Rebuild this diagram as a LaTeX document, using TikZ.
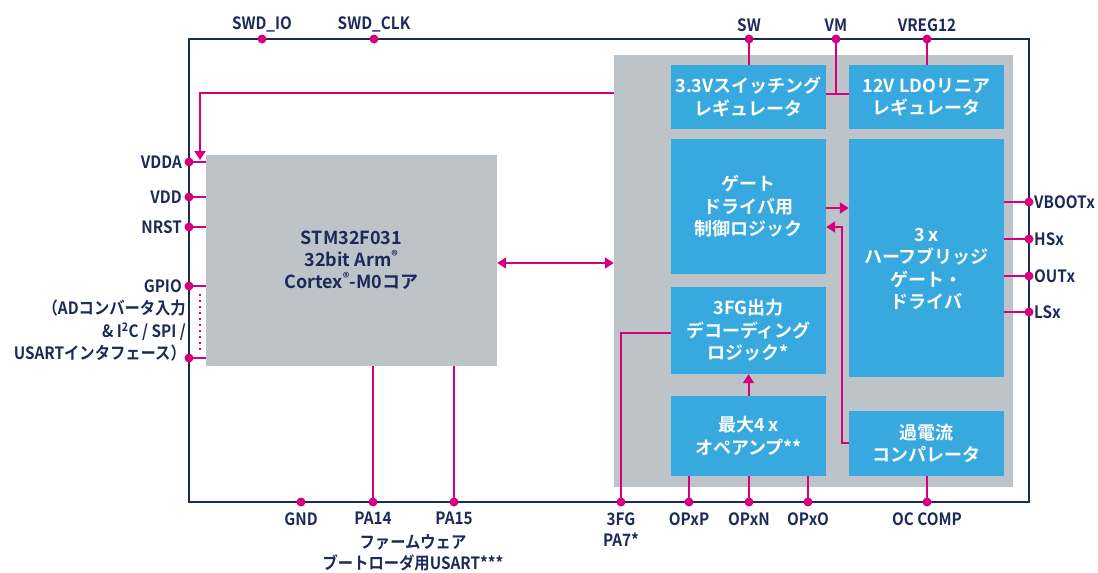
\documentclass[tikz,border=0pt]{standalone}
\usepackage{fontspec}
\usepackage{tikz}
\usetikzlibrary{arrows.meta,positioning}
\newfontfamily\jp{Noto Sans CJK JP}[UprightFont={* Bold}]
\newfontfamily\jpn{Noto Sans CJK JP}[UprightFont={* Bold},FakeStretch=0.9]
\definecolor{stnavy}{HTML}{1B2A57}
\definecolor{stpink}{HTML}{D6007F}
\definecolor{stgray}{HTML}{BCC4CA}
\definecolor{stblue}{HTML}{38A9DF}

\begin{document}
\begin{tikzpicture}[x=1pt,y=-1pt,>={Triangle[length=9pt,width=11pt]},
      font=\jp\fontsize{17}{22}\selectfont,
      frame/.style={draw=stnavy,line width=2pt},
      panel/.style={fill=stgray,inner sep=0pt},
      blk/.style={fill=stblue,text=white,align=center,inner sep=0pt,
        minimum width=155pt,font=\jp\fontsize{18}{22.5}\selectfont},
      wire/.style={draw=stpink,line width=2pt},
      pin/.style={circle,fill=stpink,inner sep=0pt,minimum size=9pt},
      lbl/.style={text=stnavy,inner sep=1pt,font=\jpn\fontsize{17}{21}\selectfont}]
  \useasboundingbox (0,0) rectangle (1098,573);
  \draw[frame] (189,39) rectangle (1029,502);
  % gray blocks
  \node[panel,minimum width=399pt,minimum height=432pt] (drv) at (813.5,271) {};
  \node[panel,minimum width=291pt,minimum height=211pt,text=stnavy,align=center,
        font=\jp\fontsize{18}{22}\selectfont] (mcu) at (351.5,260.5)
        {STM32F031\\32bit Arm\textsuperscript{®}\\Cortex\textsuperscript{®}-M0コア};
  % blue blocks
  \node[blk,minimum height=64pt]  (sw33) at (748.5,97)    {3.3Vスイッチング\\レギュレータ};
  \node[blk,minimum height=64pt]  (ldo)  at (926.5,97)    {12V LDOリニア\\レギュレータ};
  \node[blk,minimum height=135pt] (gctl) at (748.5,206.5) {ゲート\\ドライバ用\\制御ロジック};
  \node[blk,minimum height=238pt] (hb)   at (926.5,258)   {};
  \node[blk,fill=none] (hbtext) at ([yshift=-11pt]hb.center) {3 x\\ハーフブリッジ\\ゲート・\\ドライバ};
  \node[blk,minimum height=87pt]  (fg)   at (748.5,330.5) {3FG出力\\デコーディング\\ロジック*};
  \node[blk,minimum height=80pt]  (opa)  at (748.5,436)   {最大4 x\\オペアンプ**};
  \node[blk,minimum height=65pt]  (occ)  at (926.5,443.5) {過電流\\コンパレータ};
  % pins on the frame
  \foreach \nm/\x in {swdio/262,swdclk/374,sw/749,vm/836,vreg/927}
    \coordinate (\nm) at (\x,39);
  \foreach \nm/\y in {vdda/162,vdd/197,nrst/227,gpio/286,gpiob/358}
    \coordinate (\nm) at (189,\y);
  \foreach \nm/\y in {vboot/202,hs/239,out/276,ls/312}
    \coordinate (\nm) at (1029,\y);
  \foreach \nm/\x in {gnd/301,pa14/373,pa15/454,pfg/621,opp/689,opn/749,opo/808,ocp/927}
    \coordinate (\nm) at (\x,502);
  \coordinate (vmj) at (836,94);
  \coordinate (pwr) at (614,93);
  \coordinate (vin) at (200,160);
  \coordinate (fgo) at (671,333);
  \coordinate (ocj) at (842,443);
  \coordinate (fbk) at (842,227);
  % wires
  \draw[wire] (sw) -- (sw |- sw33.north);
  \draw[wire] (vm) -- (vmj);
  \draw[wire] (sw33.east |- vmj) -- (ldo.west |- vmj);
  \draw[wire] (vreg) -- (vreg |- ldo.north);
  \draw[wire,->] (pwr) -| (vin);
  \foreach \p in {vdda,vdd,nrst,gpio,gpiob}
    \draw[wire] (\p) -- (mcu.west |- \p);
  \draw[stpink,line width=2pt,dash pattern=on 2pt off 4pt] (200,294) -- (200,352);
  \foreach \p in {vboot,hs,out,ls}
    \draw[wire] (hb.east |- \p) -- (\p);
  \draw[wire] (pa14) -- (pa14 |- mcu.south);
  \draw[wire] (pa15) -- (pa15 |- mcu.south);
  \draw[wire] (fgo) -| (pfg);
  \foreach \p in {opp,opn,opo}
    \draw[wire] (\p) -- (\p |- opa.south);
  \draw[wire] (ocp) -- (ocp |- occ.south);
  \draw[wire,->] (gctl.east |- 0,208) -- (hb.west |- 0,208);
  \draw[wire,->] (occ.west |- ocj) -- (ocj) -- (fbk) -- (gctl.east |- fbk);
  \draw[wire,->] (opa.north) -- (fg.south);
  \draw[wire,<->] (mcu.east |- 0,263) -- (drv.west |- 0,263);
  % pin dots
  \foreach \p in {swdio,swdclk,sw,vm,vreg,vdda,vdd,nrst,gpio,gpiob,
                  vboot,hs,out,ls,gnd,pa14,pa15,pfg,opp,opn,opo,ocp}
    \node[pin] at (\p) {};
  % labels
  \node[lbl,above=6pt] at (swdio)  {SWD\_IO};
  \node[lbl,above=6pt] at (swdclk) {SWD\_CLK};
  \node[lbl,above=6pt] at (sw)     {SW};
  \node[lbl,above=6pt] at (vm)     {VM};
  \node[lbl,above=6pt] at (vreg)   {VREG12};
  \node[lbl,left=6pt] at (vdda) {VDDA};
  \node[lbl,left=6pt] at (vdd)  {VDD};
  \node[lbl,left=6pt] at (nrst) {NRST};
  \node[lbl,left=6pt] at (gpio) {GPIO};
  \node[lbl,align=right,anchor=north east,font=\jpn\fontsize{17}{22.5}\selectfont] (gpiotxt) at (187,299)
       {（ADコンバータ入力\\\& I\textsuperscript{2}C / SPI /\\USARTインタフェース）};
  \node[lbl,right=4pt] at (vboot) {VBOOTx};
  \node[lbl,right=4pt] at (hs)    {HSx};
  \node[lbl,right=4pt] at (out)   {OUTx};
  \node[lbl,right=4pt] at (ls)    {LSx};
  \node[lbl,below=9pt] at (gnd)  {GND};
  \node[lbl,below=9pt] at (pa14) {PA14};
  \node[lbl,below=9pt] at (pa15) {PA15};
  \node[lbl,align=center,anchor=north] (fwtxt) at (413,533) {ファームウェア\\ブートローダ用USART***};
  \node[lbl,below=9pt,align=center] at (pfg) {3FG\\PA7*};
  \node[lbl,below=9pt] at (opp) {OPxP};
  \node[lbl,below=9pt] at (opn) {OPxN};
  \node[lbl,below=9pt] at (opo) {OPxO};
  \node[lbl,below=9pt] at (ocp) {OC COMP};
\end{tikzpicture}
\end{document}
